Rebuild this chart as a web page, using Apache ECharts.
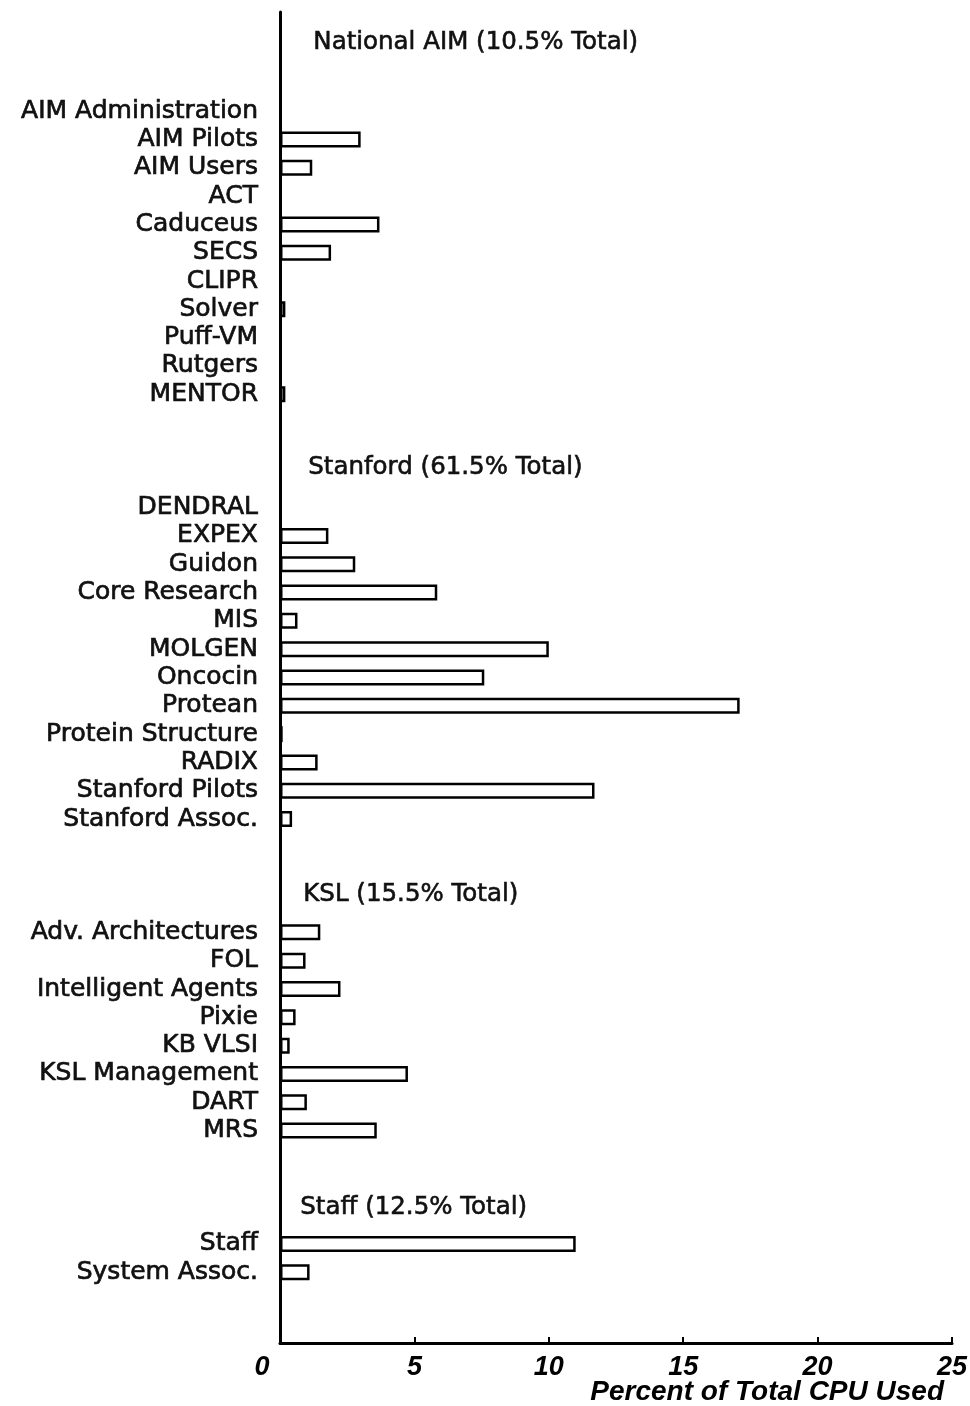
<!DOCTYPE html>
<html>
<head>
<meta charset="utf-8">
<script src="https://cdn.jsdelivr.net/npm/echarts@6/dist/echarts.min.js"></script>
<style>
  html, body { margin: 0; padding: 0; background: #fff; }
  #chart { width: 970px; height: 1406px; }
</style>
</head>
<body>
<div id="chart"></div>
<script>
// ---- Data ----
const groupTitles = [
  'National AIM (10.5% Total)',
  'Stanford (61.5% Total)',
  'KSL (15.5% Total)',
  'Staff (12.5% Total)'
];

const aimCats = ['AIM Administration', 'AIM Pilots', 'AIM Users', 'ACT', 'Caduceus', 'SECS', 'CLIPR', 'Solver', 'Puff-VM', 'Rutgers', 'MENTOR'];
const aimVals = [0, 3.0, 1.2, 0, 3.7, 1.9, 0, 0.2, 0, 0, 0.2];

const stanfordCats = ['DENDRAL', 'EXPEX', 'Guidon', 'Core Research', 'MIS', 'MOLGEN', 'Oncocin', 'Protean', 'Protein Structure', 'RADIX', 'Stanford Pilots', 'Stanford Assoc.'];
const stanfordVals = [0, 1.8, 2.8, 5.85, 0.65, 10.0, 7.6, 17.1, 0.1, 1.4, 11.7, 0.45];

const kslCats = ['Adv. Architectures', 'FOL', 'Intelligent Agents', 'Pixie', 'KB VLSI', 'KSL Management', 'DART', 'MRS'];
const kslVals = [1.5, 0.95, 2.25, 0.58, 0.36, 4.76, 1.0, 3.6];

const staffCats = ['Staff', 'System Assoc.'];
const staffVals = [11.0, 1.1];

const xTicks = [0, 5, 10, 15, 20, 25];
const xAxisTitle = 'Percent of Total CPU Used';

// ---- Build category list with spacer rows between groups ----
const groups = [
  [aimCats, aimVals],
  [stanfordCats, stanfordVals],
  [kslCats, kslVals],
  [staffCats, staffVals]
];
const categories = [];
const values = [];
function spacer(n) { for (let i = 0; i < n; i++) { categories.push(''); values.push(null); } }
spacer(3);
groups.forEach(function (g, gi) {
  g[0].forEach(function (c, i) {
    categories.push(c);
    values.push(g[1][i] === 0 ? null : g[1][i]);
  });
  spacer(gi < groups.length - 1 ? 3 : 2);
});

const chart = echarts.init(document.getElementById('chart'), null, { renderer: 'canvas' });

const titlePos = [
  { left: 313, cy: 45 },
  { left: 308, cy: 470 },
  { left: 303, cy: 897 },
  { left: 300, cy: 1210 }
];

const graphics = groupTitles.map(function (t, i) {
  return {
    type: 'text',
    left: titlePos[i].left,
    top: titlePos[i].cy - 15,
    style: { text: t, font: '24.5px "DejaVu Sans"', fill: '#111', stroke: '#111', lineWidth: 0.6 }
  };
});
graphics.push({
  type: 'text',
  right: 26,
  top: 1378,
  style: {
    text: xAxisTitle,
    font: 'italic bold 28px "Liberation Sans"',
    fill: '#000'
  }
});

chart.setOption({
  animation: false,
  backgroundColor: '#fff',
  grid: { left: 280, right: 18, top: 12, bottom: 63, containLabel: false, outerBoundsMode: 'none' },
  xAxis: {
    type: 'value',
    min: xTicks[0],
    max: xTicks[xTicks.length - 1],
    interval: 5,
    position: 'bottom',
    axisLine: { show: true, lineStyle: { color: '#000', width: 3 } },
    axisTick: { show: true, inside: true, length: 6, lineStyle: { color: '#000', width: 2 } },
    splitLine: { show: false },
    axisLabel: {
      margin: 11,
      color: '#000',
      fontFamily: 'Liberation Sans',
      fontWeight: 'bold',
      fontStyle: 'italic',
      fontSize: 27,
      formatter: function (v) { return v === 0 ? '{z|0}' : String(v); },
      rich: {
        z: {
          fontFamily: 'Liberation Sans', fontWeight: 'bold', fontStyle: 'italic',
          fontSize: 27, color: '#000', padding: [0, 36, 0, 0]
        }
      }
    }
  },
  yAxis: {
    type: 'category',
    inverse: true,
    data: categories,
    axisLine: { show: true, lineStyle: { color: '#000', width: 3 } },
    axisTick: { show: false },
    splitLine: { show: false },
    axisLabel: {
      interval: 0,
      margin: 22,
      color: '#111',
      fontFamily: 'DejaVu Sans',
      fontSize: 25,
      textBorderColor: '#111',
      textBorderWidth: 0.7,
      verticalAlign: 'middle',
      padding: [0, 0, 9, 0]
    }
  },
  series: [{
    type: 'bar',
    data: values,
    barWidth: 16,
    itemStyle: { color: '#fff', borderColor: '#000', borderWidth: 2.5 },
    emphasis: { disabled: true }
  }],
  graphic: graphics
});
</script>
</body>
</html>
